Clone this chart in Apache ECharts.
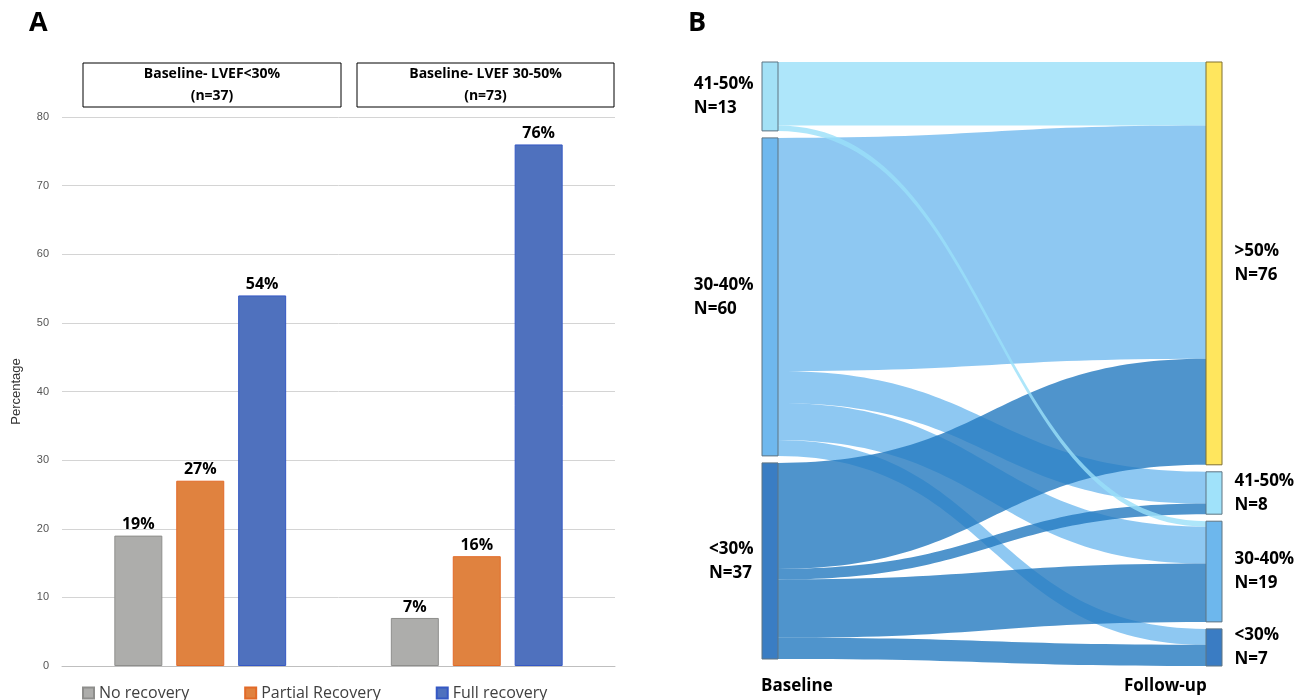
<!DOCTYPE html>
<html>
<head>
<meta charset="utf-8">
<title>LVEF recovery</title>
<script src="https://cdn.jsdelivr.net/npm/echarts@6/dist/echarts.min.js"></script>
<style>
  html, body { margin: 0; padding: 0; background: #fff; }
  #chart { width: 1308px; height: 700px; }
</style>
</head>
<body>
<div id="chart"></div>
<script>
// ---- Panel A: recovery by baseline LVEF group ----
const groupHeaders = ['Baseline- LVEF<30%\n(n=37)', 'Baseline- LVEF 30-50%\n(n=73)'];
const recoveryNames = ['No recovery', 'Partial Recovery', 'Full recovery'];
const noRecovery = [19, 7];
const partialRecovery = [27, 16];
const fullRecovery = [54, 76];
const yTicks = { min: 0, max: 80, interval: 10 };

// ---- Panel B: baseline -> follow-up LVEF categories ----
const baselineGroups = ['41-50%', '30-40%', '<30%'];
const baselineN = [13, 60, 37];
const followGroups = ['>50%', '41-50%', '30-40%', '<30%'];
const followN = [76, 8, 19, 7];
// rows: baseline groups, columns: follow-up groups
const transitions = [
  [12, 0, 1, 0],
  [44, 6, 7, 3],
  [20, 2, 11, 4]
];

const barColors = ['#adadab', '#e0823f', '#4f71be'];
const barBorders = ['#8e8e8c', '#e26a28', '#3558c4'];
const baseNodeColors = ['#a3e1f6', '#6fb8ee', '#3a7dc3'];
const followNodeColors = ['#ffe65e', '#a0e2fa', '#6db7ed', '#3a7cc3'];
const linkColors = ['#9ae0f9', '#72baef', '#2379bf'];

const FONT = 'Open Sans';
const nodeLabelFont = { fontFamily: FONT, fontWeight: 'bold', fontSize: 17, color: '#000', lineHeight: 24 };

const nodes = [];
baselineGroups.forEach((g, i) => {
  nodes.push({
    name: 'Baseline ' + g,
    itemStyle: { color: baseNodeColors[i], borderColor: '#5f7482', borderWidth: 1 },
    label: {
      position: 'left', distance: 8,
      // lines kept flush-left inside the block that sits left of the node
      formatter: '{t|' + g + '}\n{t|N=' + baselineN[i] + '}',
      rich: { t: Object.assign({ align: 'left' }, nodeLabelFont) }
    }
  });
});
followGroups.forEach((g, j) => {
  nodes.push({
    name: 'Follow-up ' + g,
    itemStyle: { color: followNodeColors[j], borderColor: j === 0 ? '#807030' : '#5f7482', borderWidth: 1 },
    label: { position: 'right', distance: 12, formatter: g + '\nN=' + followN[j] }
  });
});

const links = [];
const lateLinks = [];
transitions.forEach((row, i) => {
  row.forEach((v, j) => {
    if (!v) return;
    const link = {
      source: 'Baseline ' + baselineGroups[i],
      target: 'Follow-up ' + followGroups[j],
      value: v,
      lineStyle: { color: linkColors[i], opacity: 0.8 }
    };
    // the thin 41-50% -> 30-40% band is drawn above the others
    if (i === 0 && j !== 0) lateLinks.push(link); else links.push(link);
  });
});
links.push(...lateLinks);

const barSeries = [noRecovery, partialRecovery, fullRecovery].map((vals, k) => ({
  name: recoveryNames[k],
  type: 'bar',
  data: vals,
  barWidth: 48,
  barGap: '29%',
  itemStyle: { color: barColors[k], borderColor: barBorders[k], borderWidth: 1 },
  label: {
    show: true, position: 'top', distance: 3,
    formatter: '{c}%', fontFamily: FONT, fontWeight: 'bold', fontSize: 16, color: '#000'
  },
  emphasis: { disabled: true },
  animation: false
}));

const headerBoxes = [
  { left: 83, width: 258 },
  { left: 357, width: 257 }
];

const chart = echarts.init(document.getElementById('chart'), null, { renderer: 'canvas' });
chart.setOption({
  backgroundColor: '#fff',
  animation: false,
  grid: [{ left: 62, right: 693, top: 117, bottom: 34 }],
  xAxis: [{
    type: 'category',
    data: groupHeaders,
    axisLine: { lineStyle: { color: '#bfbfbf' } },
    axisTick: { show: false },
    axisLabel: { show: false }
  }],
  yAxis: [{
    type: 'value',
    min: yTicks.min, max: yTicks.max, interval: yTicks.interval,
    name: 'Percentage',
    nameLocation: 'middle',
    nameGap: 39,
    nameTextStyle: { fontFamily: 'Liberation Sans', fontSize: 13, color: '#333' },
    axisLine: { show: false },
    axisTick: { show: false },
    axisLabel: { margin: 13, fontFamily: 'Liberation Sans', fontSize: 11, color: '#555' },
    splitLine: { lineStyle: { color: '#d4d4d4' } }
  }],
  legend: {
    data: recoveryNames,
    left: 77, top: 680,
    icon: 'rect', itemWidth: 11, itemHeight: 11, itemGap: 55,
    textStyle: { fontFamily: FONT, fontSize: 16, color: '#404040' }
  },
  series: [
    ...barSeries,
    {
      type: 'sankey',
      left: 762, right: 86, top: 62, bottom: 34,
      nodeWidth: 16,
      nodeGap: 7,
      layoutIterations: 0,
      draggable: false,
      data: nodes,
      links: links,
      label: nodeLabelFont,
      lineStyle: { curveness: 0.5 },
      emphasis: { disabled: true },
      animation: false
    }
  ],
  graphic: [
    { type: 'text', left: 29, top: 10, style: { text: 'A', font: 'bold 27px "Open Sans"', fill: '#000' } },
    { type: 'text', left: 688, top: 10, style: { text: 'B', font: 'bold 27px "Open Sans"', fill: '#000' } },
    ...headerBoxes.map((b, i) => ({
      type: 'rect',
      shape: { x: b.left, y: 63, width: b.width, height: 44 },
      style: { fill: '#fff', stroke: '#000', lineWidth: 1 },
      textContent: {
        style: { text: groupHeaders[i], font: 'bold 14px "Open Sans"', fill: '#000', lineHeight: 22, align: 'center' }
      },
      textConfig: { position: 'inside' }
    })),
    { type: 'text', left: 761, top: 678, style: { text: 'Baseline', font: 'bold 17px "Open Sans"', fill: '#000' } },
    { type: 'text', left: 1124, top: 678, style: { text: 'Follow-up', font: 'bold 17px "Open Sans"', fill: '#000' } }
  ]
});
</script>
</body>
</html>
